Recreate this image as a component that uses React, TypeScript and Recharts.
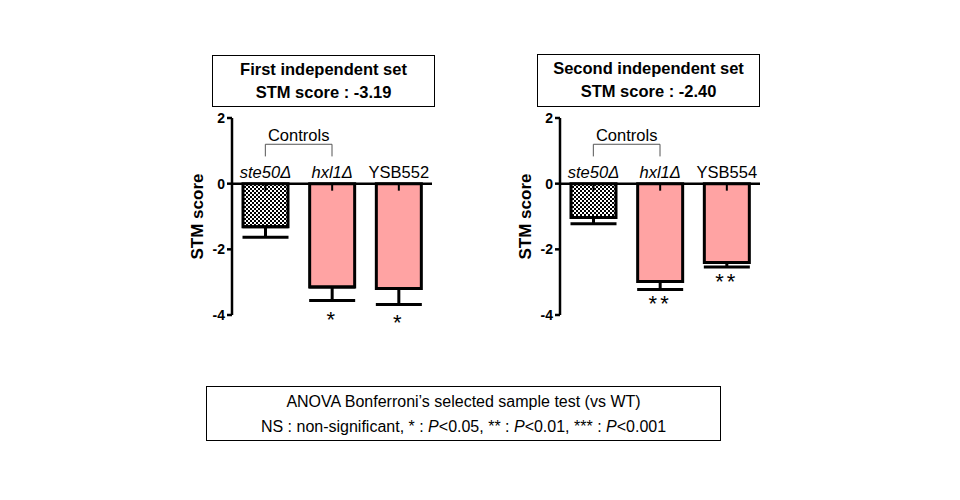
import React from "react";
import { BarChart, Bar, XAxis, YAxis, ReferenceLine, ErrorBar, Cell, LabelList } from "recharts";

const set1Names = ["ste50Δ", "hxl1Δ", "YSB552"];
const set1Scores = [-1.31, -3.15, -3.19];
const set1Errors = [0.32, 0.41, 0.49];
const set1Stars = ["", "*", "*"];

const set2Names = ["ste50Δ", "hxl1Δ", "YSB554"];
const set2Scores = [-1.03, -2.98, -2.4];
const set2Errors = [0.19, 0.24, 0.14];
const set2Stars = ["", "**", "**"];

const italicNames = [true, true, false];
const yTicks = [-4, -2, 0, 2];

const PINK = "#ffa3a3";
const FONT = "'Liberation Sans', Arial, sans-serif";

type SetProps = {
  id: string;
  names: string[];
  scores: number[];
  errors: number[];
  stars: string[];
  starGap: number;
};

function ScoreChart({ id, names, scores, errors, stars, starGap }: SetProps) {
  const data = names.map((name, i) => ({
    name,
    score: scores[i],
    err: [errors[i], 0],
  }));

  // name above the bar, tick at the zero line, stars under the error bar
  const renderMarks = (props: any) => {
    const { x, y, width, height, index } = props;
    const top = Math.min(y, y + height);
    const cx = x + width / 2;
    const pxPerUnit = Math.abs(height) / Math.abs(scores[index]);
    const errEnd = top + (Math.abs(scores[index]) + errors[index]) * pxPerUnit;
    return (
      <g>
        <text
          x={cx}
          y={top - 6}
          textAnchor="middle"
          fontSize={16.5}
          fontStyle={italicNames[index] ? "italic" : "normal"}
          fontFamily={FONT}
          fill="#000"
        >
          {names[index]}
        </text>
        <line x1={cx} x2={cx} y1={top} y2={top + 7} stroke="#000" strokeWidth={2} />
        {stars[index] && (
          <text x={cx} y={errEnd + starGap} textAnchor="middle" fontSize={22} fontFamily={FONT} fill="#000" letterSpacing={3}>
            {stars[index]}
          </text>
        )}
      </g>
    );
  };

  return (
    <BarChart width={300} height={240} data={data} margin={{ top: 18, right: 18, bottom: 25, left: 20 }}>
      <defs>
        <pattern id={`checks-${id}`} width={4} height={4} patternUnits="userSpaceOnUse">
          <rect width={4} height={4} fill="#fff" />
          <rect width={2} height={2} fill="#000" />
          <rect x={2} y={2} width={2} height={2} fill="#000" />
        </pattern>
      </defs>
      <XAxis dataKey="name" hide />
      <YAxis
        domain={[-4, 2]}
        ticks={yTicks}
        width={62}
        axisLine={{ stroke: "#000", strokeWidth: 2.5 }}
        tickLine={{ stroke: "#000", strokeWidth: 2.5 }}
        tickSize={5}
        tick={{ fill: "#000", fontSize: 14, fontWeight: "bold", fontFamily: FONT }}
        label={{
          content: ({ viewBox }: any) => {
            const lx = viewBox.x + 27;
            const ly = viewBox.y + viewBox.height / 2;
            return (
              <text x={lx} y={ly} transform={`rotate(-90 ${lx} ${ly})`} textAnchor="middle" dominantBaseline="central" fontSize={17} fontWeight="bold" fontFamily={FONT} fill="#000">
                STM score
              </text>
            );
          },
        }}
      />
      <Bar dataKey="score" barSize={45} stroke="#000" strokeWidth={3} isAnimationActive={false}>
        {data.map((d, i) => (
          <Cell key={d.name} fill={i === 0 ? `url(#checks-${id})` : PINK} />
        ))}
        <ErrorBar dataKey="err" width={23} stroke="#000" strokeWidth={3} direction="y" />
        <LabelList dataKey="name" content={renderMarks} />
      </Bar>
      <ReferenceLine y={0} stroke="#000" strokeWidth={2.5} />
      <ReferenceLine segment={[{ x: names[0], y: 1.2 }, { x: names[1], y: 1.2 }]} stroke="#555" strokeWidth={1}
        label={{ value: "Controls", position: "top", offset: 3, fontSize: 16.5, fontFamily: FONT, fill: "#000" }} />
      <ReferenceLine segment={[{ x: names[0], y: 1.2 }, { x: names[0], y: 0.83 }]} stroke="#555" strokeWidth={1} />
      <ReferenceLine segment={[{ x: names[1], y: 1.2 }, { x: names[1], y: 0.83 }]} stroke="#555" strokeWidth={1} />
    </BarChart>
  );
}

const boxStyle: React.CSSProperties = {
  position: "absolute",
  border: "1px solid #000",
  boxSizing: "border-box",
  background: "#fff",
  textAlign: "center",
  fontFamily: FONT,
  color: "#000",
};

export default function App() {
  return (
    <div style={{ position: "absolute", left: 0, top: 0, width: 960, height: 500, background: "#fff", fontFamily: FONT }}>
      <div style={{ ...boxStyle, left: 212, top: 55, width: 223, height: 52, fontWeight: "bold", fontSize: 16.5, lineHeight: "23px", paddingTop: 2 }}>
        First independent set
        <br />
        STM score : -3.19
      </div>
      <div style={{ ...boxStyle, left: 537, top: 54, width: 223, height: 53, fontWeight: "bold", fontSize: 16.5, lineHeight: "23px", paddingTop: 2 }}>
        Second independent set
        <br />
        STM score : -2.40
      </div>
      <div style={{ position: "absolute", left: 150, top: 100 }}>
        <ScoreChart id="a" names={set1Names} scores={set1Scores} errors={set1Errors} stars={set1Stars} starGap={26} />
      </div>
      <div style={{ position: "absolute", left: 478, top: 100 }}>
        <ScoreChart id="b" names={set2Names} scores={set2Scores} errors={set2Errors} stars={set2Stars} starGap={22} />
      </div>
      <div style={{ ...boxStyle, left: 206, top: 386, width: 515, height: 55, fontSize: 16, lineHeight: "25px", paddingTop: 2 }}>
        ANOVA Bonferroni’s selected sample test (vs WT)
        <br />
        NS : non-significant, * : <i>P</i>&lt;0.05, ** : <i>P</i>&lt;0.01, *** : <i>P</i>&lt;0.001
      </div>
    </div>
  );
}
